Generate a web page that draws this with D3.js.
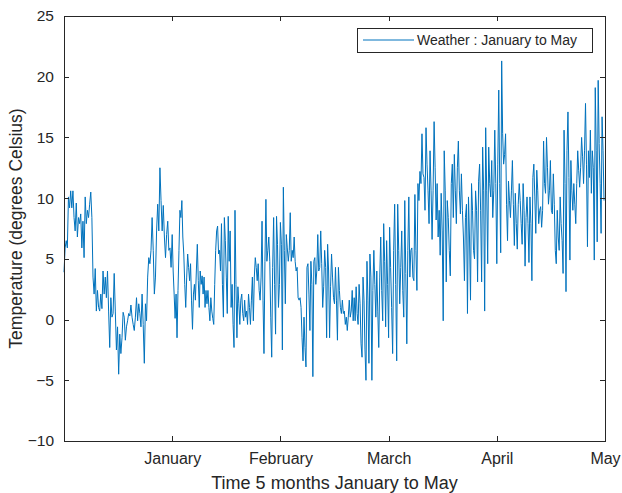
<!DOCTYPE html>
<html>
<head>
<meta charset="utf-8">
<script src="https://cdn.jsdelivr.net/npm/d3@7"></script>
<style>
  body { margin: 0; background: #fff; }
  text { font-family: "Liberation Sans", Arial, Helvetica, sans-serif; fill: #262626; }
</style>
</head>
<body>
<div id="chart"></div>
<script>
// temperature readings, one array per month (Dec .. Apr), evenly spaced in time
var decTemps = [3.9, 5.9, 6.5, 5.9, 10.1, 9.2, 10.6, 9.2, 10.6, 8.4, 7.3, 9.6, 6.8, 8.4, 7.9, 8.7, 5.9, 8.1, 5.1, 10.1,
  7.9, 9.0, 8.4, 9.5, 10.5, 8.4, 3.5, 2.1, 4.2, 0.7, 2.4, 1.0, 0.7, 2.1, 0.9, 4.0, 2.1, 3.5, 1.8, 4.0,
  0.7, -2.3, 1.8, 0.2, 0.5, 3.8, 0.7, -2.5, -0.6, -4.5, -1.2, -2.8, -1.5, 0.6, 0.2, -1.7, -0.6, -0.1, 0.5, 0.3,
  1.2, 0.2, -0.4, -0.9, 0.2, 1.8, -0.1, 1.3, 0.5, -0.6, 2.1, -0.4, -3.6, 1.3, -0.1, 3.5, 5.1, 4.6, 5.7, 8.4,
  5.7, 2.1, 3.5, 7.3, 9.5, 7.3, 12.5, 9.8, 7.3, 9.4, 6.8, 5.1, 7.0, 8.1, 5.7, 5.9, 4.3];
var janTemps = [7.0, 4.0, 2.1, 0.1, 2.1, -1.5, 2.4, 5.7, 9.0, 8.4, 9.8, 6.8, 5.4, 2.9, 1.0, 3.5, 5.4, 4.3, 3.2, 4.6,
  1.6, -0.8, 2.1, 2.9, 1.6, 4.0, 6.2, 3.2, 1.0, 4.0, 2.9, 3.6, 2.1, 3.5, 1.0, 2.4, 1.3, 2.4, 1.0, -0.1,
  1.8, 0.7, 0.1, -0.4, 2.9, 5.7, 7.3, 7.7, 5.4, 5.7, 4.0, 7.9, 2.9, 0.2, 8.4, 6.5, 3.5, 0.5, 8.5, 4.8,
  7.3, 1.0, 2.9, -0.4, -2.3, 9.0, 2.9, -1.5, 2.7, 1.3, -0.4, 1.6, 2.1, 0.5, -0.1,
  1.6, 0.2, 0.7, -0.4, 2.1, 1.0, -0.4, 1.6, 3.5, -0.1, 3.5, 5.1, 4.3, 3.2, 4.6, 2.4, 1.6, 3.5, 8.1, 1.6,
  -2.8, 4.8, 9.9, 4.8, 5.7, 6.8, 4.8, 0.2, -3.1, 4.3, 8.4, 2.9, -1.2, 8.5, 6.2, 1.0, 2.9];
var febTemps = [8.0, 6.2, -2.5, 10.9, 5.7, 1.3, 7.0, 5.9, 4.8, 5.7, 8.8, 4.8, 5.7, 5.1, 6.8, 4.8, 4.0, 4.3, 1.8, 1.6,
  1.8, 1.0, -1.5, -3.4, 0.2, -2.3, -3.9, 4.3, 4.6, 2.1, -0.9, 4.8, 2.9, -4.7, 4.8, 5.1, 2.9, 4.0, 7.0, 4.0,
  4.3, 7.3, 4.6, 1.0, 2.7, 5.7, 4.3, -1.5, 6.2, 4.0, -1.5, 2.7, 5.4, 3.5, 1.8,
  1.3, 4.3, 1.6, -1.7, 4.3, 2.4, 1.0, 0.5, 1.6, 0.5, 0.7, -0.4, 0.2, -0.9, 0.2, 1.6, 0.2, 0.7, 2.4, -0.1,
  1.8, -0.1, 2.7, 0.5, -0.4, 2.9, 1.3, -2.0, -3.1, 3.5, 1.6, -2.5, -5.0, 4.8, 1.6, -3.6, 5.4, 3.5, -5.0, 2.4,
  5.7, 2.9, 0.2, 4.0, 0.7, -2.3, 3.5, 6.8, 2.4, -0.1, 7.9, 4.8, -0.6, 6.5, 2.9];
var marTemps = [-1.5, 7.6, 4.3, 1.0, -2.8, 5.7, 9.5, 2.9, -3.4, 9.5, 5.7, 1.3, 4.3, 7.3, 2.4, 0.2, 9.8, 3.8, -2.0, 5.7,
  10.1, 3.5, 5.7, 5.9, 3.5, 3.2, 10.3, 5.7, 2.4, 11.2, 9.8, 12.2, 11.2, 15.3, 12.0, 11.7,
  9.0, 15.8, 12.8, 10.6, 7.9, 13.9, 10.6, 6.6, 10.6, 16.3, 12.5, 8.2, 11.2, 6.8, 9.0, 5.3, 10.4, 7.3, -0.1, 13.9,
  10.6, 3.1, 9.8, 8.4, 5.7, 3.6, 11.2, 12.8, 8.4, 13.6, 10.6, 7.9, 12.5, 14.7, 10.6, 8.7, 12.0, 9.0, 6.8, 3.2,
  8.4, 9.5, 0.5, 10.1, 6.8, 1.6, 11.2, 9.0, 5.7, 5.0, 10.6, 9.0, 3.1, 11.4, 12.8, 9.0, 3.1, 14.2, 10.6, 0.7,
  15.8, 10.6, 4.6, 14.2, 11.2, 10.1, 13.1, 8.4, 10.6, 15.6, 11.2];
var aprTemps = [4.6, 12.8, 18.9, 11.2, 5.5, 21.3, 15.3, 12.8, 13.6, 15.3, 9.5, 6.5, 11.4, 9.8, 8.4, 10.6, 13.1, 9.5, 6.1,
  10.4, 7.9, 5.8, 9.5, 11.2, 9.8, 7.9, 6.2, 11.2, 9.0, 4.4, 8.4, 10.1, 7.9, 4.7, 10.1, 7.9, 3.2, 11.7, 12.8,
  10.1, 7.1, 12.3, 10.6, 7.9, 9.0, 9.3, 7.6, 9.0, 14.7, 11.2, 10.4, 15.0, 12.5, 9.5, 10.6, 13.1, 9.0, 8.7, 12.0,
  9.5, 5.7, 4.6, 9.0, 6.8, 5.7, 10.1, 7.9, 6.5, 3.8, 15.6, 11.2, 2.3, 13.9, 17.1, 11.7, 4.9, 13.1, 10.6, 9.0,
  11.2, 9.5, 7.9, 11.2, 13.9, 12.3, 10.9, 12.5, 15.0, 13.4, 11.2, 13.9, 17.8, 12.8, 6.0, 13.9, 11.7, 15.6, 10.4,
  13.9, 12.5, 4.9, 19.1, 13.9, 6.4, 19.7, 14.5, 11.2, 7.1, 16.7, 13.9, 9.8];

var months = [decTemps, janTemps, febTemps, marTemps, aprTemps];
var monthTicks = [1, 2, 3, 4, 5];
var monthLabels = ["January", "February", "March", "April", "May"];
var tempTicks = [-10, -5, 0, 5, 10, 15, 20, 25];

var width = 622, height = 493;
var margin = { top: 16, right: 17, bottom: 52, left: 64 };
var axisColor = "#262626";

var data = [];
months.forEach(function (arr, k) {
  arr.forEach(function (v, i) {
    data.push({ t: k + i / arr.length, v: v });
  });
});

var svg = d3.select("#chart").append("svg")
  .attr("width", width)
  .attr("height", height);

var x = d3.scaleLinear().domain([0, 5]).range([margin.left, width - margin.right]);
var y = d3.scaleLinear().domain([-10, 25]).range([height - margin.bottom, margin.top]);

// the series
var line = d3.line()
  .x(function (d) { return x(d.t); })
  .y(function (d) { return y(d.v); });

svg.append("path")
  .datum(data)
  .attr("fill", "none")
  .attr("stroke", "#0072BD")
  .attr("stroke-width", 1)
  .attr("stroke-linejoin", "round")
  .attr("d", line);

// axes, ticks point inward like matlab
var tickLen = 5;
var xAxis = svg.append("g")
  .attr("transform", "translate(0," + y(-10) + ")")
  .call(d3.axisBottom(x).tickValues(monthTicks).tickSizeInner(-tickLen).tickSizeOuter(0).tickPadding(12)
    .tickFormat(function (d, i) { return monthLabels[i]; }));
var yAxis = svg.append("g")
  .attr("transform", "translate(" + x(0) + ",0)")
  .call(d3.axisLeft(y).tickValues(tempTicks).tickSizeInner(-tickLen).tickSizeOuter(0).tickPadding(10));
var xTop = svg.append("g")
  .attr("transform", "translate(0," + y(25) + ")")
  .call(d3.axisTop(x).tickValues(monthTicks).tickSizeInner(-tickLen).tickSizeOuter(0).tickFormat(""));
var yRight = svg.append("g")
  .attr("transform", "translate(" + x(5) + ",0)")
  .call(d3.axisRight(y).tickValues(tempTicks).tickSizeInner(-tickLen).tickSizeOuter(0).tickFormat(""));

[xAxis, yAxis, xTop, yRight].forEach(function (g) {
  g.selectAll("path.domain").attr("stroke", axisColor).attr("shape-rendering", "crispEdges");
  g.selectAll(".tick line").attr("stroke", axisColor).attr("shape-rendering", "crispEdges");
  g.selectAll(".tick text").attr("fill", axisColor).style("font-size", "16px")
    .style("font-family", "'Liberation Sans', Arial, sans-serif");
});
yAxis.selectAll(".tick text").style("font-size", "15.5px");

// axis titles
svg.append("text")
  .attr("x", (x(0) + x(5)) / 2)
  .attr("y", 489)
  .attr("text-anchor", "middle")
  .style("font-size", "18px")
  .text("Time 5 months January to May");

svg.append("text")
  .attr("transform", "translate(22," + (y(-10) + y(25)) / 2 + ") rotate(-90)")
  .attr("text-anchor", "middle")
  .style("font-size", "17.5px")
  .text("Temperature (degrees Celsius)");

// legend
var leg = svg.append("g").attr("transform", "translate(357,28)");
leg.append("rect")
  .attr("width", 235).attr("height", 24)
  .attr("fill", "#fff").attr("stroke", axisColor).attr("stroke-width", 1)
  .attr("shape-rendering", "crispEdges");
leg.append("line")
  .attr("x1", 6).attr("x2", 57).attr("y1", 12).attr("y2", 12)
  .attr("stroke", "#0072BD").attr("stroke-width", 1);
leg.append("text")
  .attr("x", 60).attr("y", 17)
  .style("font-size", "14px")
  .text("Weather : January to May");
</script>
</body>
</html>
